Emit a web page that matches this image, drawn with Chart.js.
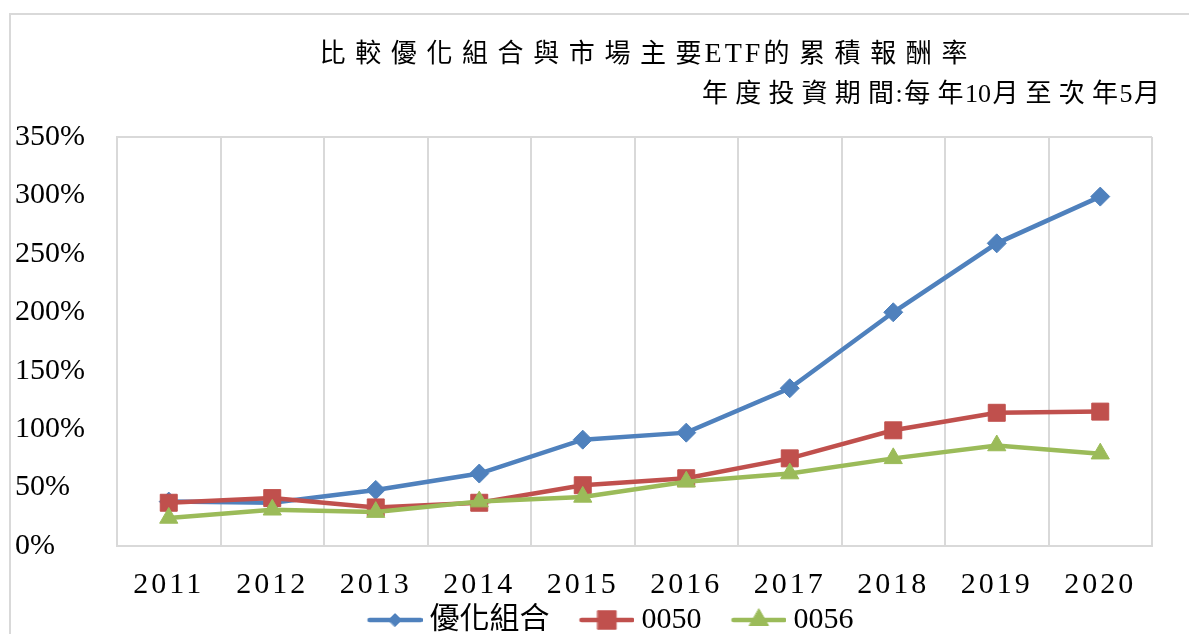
<!DOCTYPE html>
<html lang="zh-Hant">
<head>
<meta charset="utf-8">
<title>累積報酬率</title>
<script src="https://cdn.jsdelivr.net/npm/chart.js"></script>
<style>
    html, body { margin: 0; padding: 0; background: #fff; }
    #grafico { display: block; }
</style>
</head>
<body>
<canvas id="grafico" width="1189" height="634"></canvas>
<script>
// Datos (porcentaje acumulado)
var anios = ['2011', '2012', '2013', '2014', '2015', '2016', '2017', '2018', '2019', '2020'];
var optimizado = [38, 37, 48, 62, 91, 97, 135, 200, 259, 299];
var etf0050 = [37, 41, 33, 37, 52, 58, 75, 99, 114, 115];
var etf0056 = [24, 31, 29, 38, 42, 55, 62, 75, 86, 79];
var nombresSeries = ['優化組合', '0050', '0056'];
var titulo = '比較優化組合與市場主要ETF的累積報酬率';
var subtitulo = '年度投資期間:每年10月至次年5月';
var ejeYMin = 0;
var ejeYMax = 350;
var ejeYPaso = 50;

(function () {

    var colores = ['#4f81bd', '#c0504d', '#9bbb59'];
    var marcadores = ['rectRot', 'rect', 'triangle'];
    var radios = [9.5, 12, 10.5];
    var radiosLeyenda = [6.5, 13, 11];
    var gris = '#d9d9d9';
    var fuente = '"Liberation Serif", "Noto Sans CJK TC", serif';

    // Icono de la leyenda: línea con el marcador en el centro
    function iconoLeyenda(i) {
        var c = document.createElement('canvas');
        c.width = 91;
        c.height = 26;
        var ctx = c.getContext('2d');
        ctx.strokeStyle = colores[i];
        ctx.fillStyle = colores[i];
        ctx.lineWidth = 4.5;
        ctx.lineCap = 'round';
        ctx.beginPath();
        ctx.moveTo(38, 13);
        ctx.lineTo(89, 13);
        ctx.stroke();
        ctx.lineWidth = 1;
        Chart.helpers.drawPoint(ctx, {
            pointStyle: marcadores[i],
            radius: radiosLeyenda[i],
            borderWidth: 1,
            rotation: 0
        }, 63.5, 13);
        return c;
    }

    function esCJK(ch) {
        return ch.charCodeAt(0) > 0x2e80;
    }

    // Texto letra por letra: más aire entre caracteres chinos
    function textoEspaciado(ctx, texto, cfg, x, y, alineacion) {
        var letras = Array.from(texto);
        ctx.save();
        ctx.fillStyle = '#000';
        ctx.textBaseline = 'middle';
        ctx.textAlign = 'left';
        ctx.letterSpacing = '0px';
        var anchos = letras.map(function (ch) {
            ctx.font = (esCJK(ch) ? cfg.tamCJK : cfg.tamLat) + 'px ' + fuente;
            return ctx.measureText(ch).width;
        });
        var total = 0;
        var huecos = [];
        for (var i = 0; i < letras.length; i++) {
            total += anchos[i];
            if (i < letras.length - 1) {
                var a = esCJK(letras[i]), b = esCJK(letras[i + 1]);
                var h = a && b ? cfg.espCJK : (!a && !b ? cfg.espLat : cfg.espMixto);
                huecos.push(h);
                total += h;
            }
        }
        var cx = alineacion === 'center' ? x - total / 2 : x - total;
        for (var j = 0; j < letras.length; j++) {
            ctx.font = (esCJK(letras[j]) ? cfg.tamCJK : cfg.tamLat) + 'px ' + fuente;
            ctx.fillText(letras[j], cx, y);
            cx += anchos[j] + (huecos[j] || 0);
        }
        ctx.restore();
    }

    var adornos = {
        id: 'adornos',
        afterLayout: function (chart) {
            // centrar la leyenda como en el original
            chart.legend.left += 13;
            chart.legend.right += 13;
        },
        beforeDraw: function (chart) {
            var ctx = chart.ctx;
            ctx.save();
            ctx.strokeStyle = gris;
            ctx.lineWidth = 2;
            ctx.strokeRect(10, 14, 1400, 1000);
            ctx.restore();
        },
        afterDatasetsDraw: function (chart) {
            // las etiquetas del eje X se dibujan despues (z: 1) con espaciado
            chart.ctx.letterSpacing = '3px';
        },
        afterDraw: function (chart) {
            var ctx = chart.ctx;
            ctx.letterSpacing = '0px';
            textoEspaciado(ctx, titulo, { tamCJK: 26, tamLat: 28, espCJK: 9.6, espLat: 3, espMixto: 3 }, 643.5, 55, 'center');
            textoEspaciado(ctx, subtitulo, { tamCJK: 26, tamLat: 26, espCJK: 7.2, espLat: 0, espMixto: 1.5 }, 1160, 95, 'right');
        }
    };

    var series = [optimizado, etf0050, etf0056];
    var datasets = series.map(function (datos, i) {
        return {
            label: nombresSeries[i],
            data: datos,
            order: 2 - i,
            borderColor: colores[i],
            backgroundColor: colores[i],
            borderWidth: 4.5,
            tension: 0,
            fill: false,
            pointStyle: marcadores[i],
            pointRadius: radios[i],
            pointHoverRadius: radios[i],
            pointBorderWidth: 1,
            pointBackgroundColor: colores[i],
            pointBorderColor: colores[i]
        };
    });

    var iconos = [0, 1, 2].map(iconoLeyenda);

    var ctx = document.getElementById('grafico').getContext('2d');
    var grafico = new Chart(ctx, {
        type: 'line',
        data: {
            labels: anios,
            datasets: datasets
        },
        options: {
            responsive: false,
            animation: false,
            layout: {
                padding: { top: 137, left: 15, right: 37, bottom: 0 }
            },
            plugins: {
                title: { display: false },
                tooltip: { enabled: false },
                legend: {
                    position: 'bottom',
                    maxHeight: 31,
                    labels: {
                        usePointStyle: true,
                        pointStyleWidth: 75,
                        boxHeight: 30,
                        padding: 2,
                        color: '#000',
                        font: { family: fuente, size: 30 },
                        generateLabels: function (chart) {
                            return chart.data.datasets.map(function (ds, i) {
                                return {
                                    text: ds.label,
                                    pointStyle: iconos[i],
                                    datasetIndex: i,
                                    hidden: false,
                                    lineWidth: 0,
                                    fillStyle: colores[i],
                                    strokeStyle: colores[i],
                                    fontColor: '#000'
                                };
                            });
                        }
                    }
                }
            },
            scales: {
                x: {
                    offset: true,
                    grid: {
                        offset: true,
                        color: gris,
                        lineWidth: 2,
                        drawTicks: false
                    },
                    border: { display: true, color: gris, width: 2 },
                    ticks: {
                        z: 1,
                        padding: 21,
                        color: '#000',
                        maxRotation: 0,
                        font: { family: fuente, size: 30 }
                    },
                    afterFit: function (eje) {
                        eje.height = 57;
                    }
                },
                y: {
                    min: ejeYMin,
                    max: ejeYMax,
                    grid: {
                        drawTicks: false,
                        lineWidth: 2,
                        color: function (c) {
                            return c.tick && c.tick.value === ejeYMax ? gris : 'rgba(0,0,0,0)';
                        }
                    },
                    border: { display: true, color: gris, width: 2 },
                    ticks: {
                        stepSize: ejeYPaso,
                        crossAlign: 'far',
                        color: '#000',
                        font: { family: fuente, size: 30 },
                        callback: function (v) {
                            return v + '%';
                        }
                    },
                    afterFit: function (eje) {
                        eje.width = 102;
                    }
                }
            }
        },
        plugins: [adornos]
    });

})();
</script>
</body>
</html>
